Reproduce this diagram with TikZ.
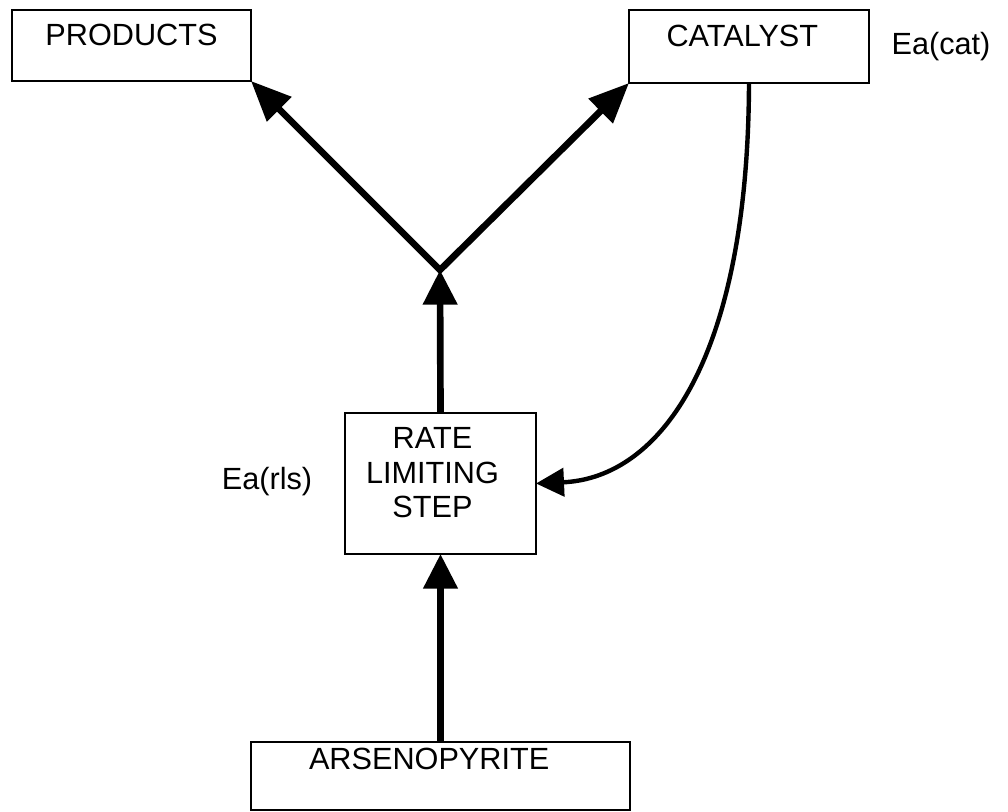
\documentclass[tikz,border=0pt]{standalone}
\usepackage{fontspec}
\setmainfont{Liberation Sans}
\usetikzlibrary{arrows.meta}
\begin{document}
\begin{tikzpicture}[x=0.75pt,y=-0.75pt,
  every node/.style={font=\fontsize{23}{26}\selectfont},
  box/.style={draw, line width=1.6pt, inner sep=0pt, outer sep=0pt, anchor=north west},
  thickarrow/.style={line width=5pt, -{Triangle[length=26pt,width=25pt]}},
  armtip/.style={line width=5pt, {Triangle[length=30pt,width=25pt]}-{Triangle[length=30pt,width=25pt]}, line join=miter},
  catarrow/.style={line width=3.3pt, -{Triangle[length=21pt,width=21pt]}}
]
\useasboundingbox (0,0) rectangle (1008,812);
\node[box, minimum width=179.25pt, minimum height=53.25pt, text height=27pt, text depth=26.25pt] (prod) at (12,10) {PRODUCTS};
\node[box, minimum width=180pt, minimum height=54.75pt, text height=27.75pt, text depth=27pt] (cat) at (629,10) {CATALYST\kern10pt};
\node[box, minimum width=143.25pt, minimum height=105.75pt, text height=78.75pt, text depth=27pt, align=center] (rls) at (345,413) {RATE\kern12pt\\LIMITING\kern12pt\\STEP\kern12pt};
\node[box, minimum width=284.25pt, minimum height=51pt, text height=21pt, text depth=30pt] (arsen) at (251,742) {ARSENOPYRITE\kern17pt};
\node[anchor=base] (eacat) at (941,55) {Ea(cat)};
\node[anchor=base] (earls) at (267,490) {Ea(rls)};
\coordinate (junc) at (440,270);
\draw[thickarrow] (arsen.north) -- (rls.south);
\draw[thickarrow] (rls.north) -- (junc);
\draw[armtip] (prod.south east) -- (junc) -- (cat.south west);
\draw[catarrow] (cat.south) .. controls (748,360) and (660,478) .. (rls.east);
\end{tikzpicture}
\end{document}
